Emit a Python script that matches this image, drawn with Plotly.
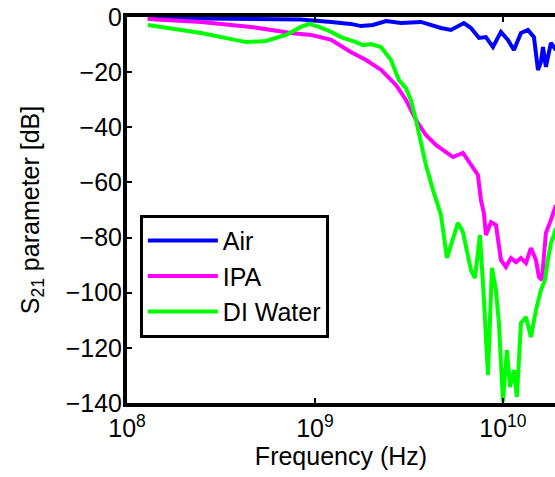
import plotly.graph_objects as go

# ---- data ----
air_freq = [1.29e8, 2.48e8, 4.57e8, 8.42e8, 1.22e9, 1.55e9, 1.76e9, 2.03e9, 2.39e9, 2.87e9,
            3.66e9, 4.14e9, 4.68e9, 5.29e9, 6.20e9, 6.76e9, 7.46e9, 8.12e9, 8.85e9, 9.76e9,
            1.063e10, 1.144e10, 1.247e10, 1.358e10, 1.462e10, 1.536e10, 1.593e10, 1.633e10,
            1.693e10, 1.800e10, 1.914e10]
air_db = [-0.4, -0.5, -0.7, -0.9, -1.8, -2.5, -3.3, -2.9, -1.5, -2.2,
          -1.8, -2.9, -4.0, -4.7, -2.2, -4.0, -7.6, -7.3, -10.9, -5.4,
          -8.3, -12.0, -5.8, -4.7, -7.3, -19.2, -16.3, -10.9,
          -18.1, -9.4, -12.0]

ipa_freq = [1.29e8, 2.48e8, 4.57e8, 7.45e8, 9.52e8, 1.22e9, 1.55e9, 1.87e9, 2.25e9, 2.70e9,
            3.05e9, 3.45e9, 3.89e9, 4.40e9, 4.98e9, 5.42e9, 6.13e9, 6.76e9, 7.36e9, 7.64e9,
            7.92e9, 8.12e9, 8.64e9, 9.18e9, 9.76e9, 1.037e10, 1.103e10, 1.173e10, 1.247e10,
            1.326e10, 1.409e10, 1.498e10, 1.554e10, 1.612e10, 1.693e10, 1.800e10, 1.914e10]
ipa_db = [-0.7, -1.8, -3.6, -5.8, -6.5, -8.3, -12.7, -15.6, -19.2, -24.7,
          -30.1, -37.4, -42.8, -46.4, -49.0, -50.8, -49.3, -53.7, -57.3, -66.4,
          -71.1, -79.1, -74.4, -75.4, -88.1, -90.7, -87.4, -88.9, -87.4,
          -89.2, -83.8, -88.1, -94.3, -95.4, -78.3, -73.6, -68.2]

water_freq = [1.29e8, 2.48e8, 4.30e8, 5.49e8, 7.01e8, 8.42e8, 9.29e8, 1.05e9, 1.22e9, 1.375e9,
              1.653e9, 1.80e9, 1.986e9, 2.245e9, 2.537e9, 2.798e9, 3.048e9, 3.24e9, 3.445e9,
              3.663e9, 3.894e9, 4.243e9, 4.68e9, 5.036e9, 5.763e9, 6.126e9, 6.758e9, 7.099e9,
              7.545e9, 7.924e9, 8.324e9, 8.741e9, 9.18e9, 9.52e9, 1.0e10, 1.05e10, 1.09e10,
              1.144e10, 1.187e10, 1.247e10, 1.326e10, 1.409e10, 1.498e10, 1.593e10, 1.673e10,
              1.735e10, 1.800e10, 1.867e10, 1.914e10]
water_db = [-2.9, -5.8, -9.1, -8.7, -6.5, -3.6, -2.5, -3.6, -5.4, -7.3,
            -9.1, -10.2, -9.8, -10.9, -15.6, -22.9, -25.8, -30.1, -37.4,
            -46.4, -53.7, -62.7, -71.8, -87.4, -74.7, -78.0, -91.8, -94.7,
            -79.1, -102.6, -129.9, -91.0, -99.0, -111.0, -139.5, -120.8, -134.2,
            -128.0, -137.8, -111.0, -108.8, -116.1, -106.3, -99.0, -95.4,
            -88.1, -82.0, -79.1, -76.5]

series_names = ["Air", "IPA", "DI Water"]
series_colors = ["#0000FF", "#FF00FF", "#00FF00"]

y_ticks = [0, -20, -40, -60, -80, -100, -120, -140]
y_ticktext = ["0", "\u221220", "\u221240", "\u221260", "\u221280", "\u2212100", "\u2212120", "\u2212140"]
x_ticks = [1e8, 1e9, 1e10]
x_ticktext = ["10<sup>8</sup>", "10<sup>9</sup>", "10<sup>10</sup>"]

FONT = "Liberation Sans"
FS = 25

fig = go.Figure()
for name, fx, fy, col in zip(series_names,
                             [air_freq, ipa_freq, water_freq],
                             [air_db, ipa_db, water_db],
                             series_colors):
    fig.add_trace(go.Scatter(x=fx, y=fy, mode="lines", name=name,
                             line=dict(color=col, width=4), cliponaxis=True))

fig.update_layout(
    width=555, height=477,
    margin=dict(l=127, r=0, t=17, b=74, autoexpand=False),
    paper_bgcolor="white", plot_bgcolor="white",
    font=dict(family=FONT, size=FS, color="black"),
    showlegend=True,
    legend=dict(x=0.030, y=0.488, xanchor="left", yanchor="top",
                bgcolor="white", bordercolor="black", borderwidth=3,
                font=dict(family=FONT, size=FS, color="black"),
                itemwidth=70, tracegroupgap=0),
    xaxis=dict(type="log", range=[8, 10.277], tickvals=x_ticks, ticktext=x_ticktext,
               automargin=False, ticklabeloverflow="allow",
               showgrid=False, zeroline=False, showline=True, linecolor="black", linewidth=4,
               mirror="ticks", ticks="inside", ticklen=5, tickwidth=2, tickcolor="black",
               title=dict(text="Frequency (Hz)", standoff=2,
                          font=dict(family=FONT, size=FS, color="black")),
               tickfont=dict(family=FONT, size=FS)),
    yaxis=dict(range=[-140, 0], tickvals=y_ticks, ticktext=y_ticktext,
               automargin=False, ticklabeloverflow="allow", ticklabelstandoff=-4,
               showgrid=False, zeroline=False, showline=True, linecolor="black", linewidth=4,
               ticks="inside", ticklen=5, tickwidth=2, tickcolor="black",
               title=dict(text="S<sub>21</sub> parameter [dB]", standoff=20,
                          font=dict(family=FONT, size=FS, color="black")),
               tickfont=dict(family=FONT, size=FS)),
)

# remove the default 8px page margin so the figure fills the window exactly
fig.write_html("out.html",
               config={"displayModeBar": False},
               post_script="document.body.style.margin='0';document.body.style.overflow='hidden';")
